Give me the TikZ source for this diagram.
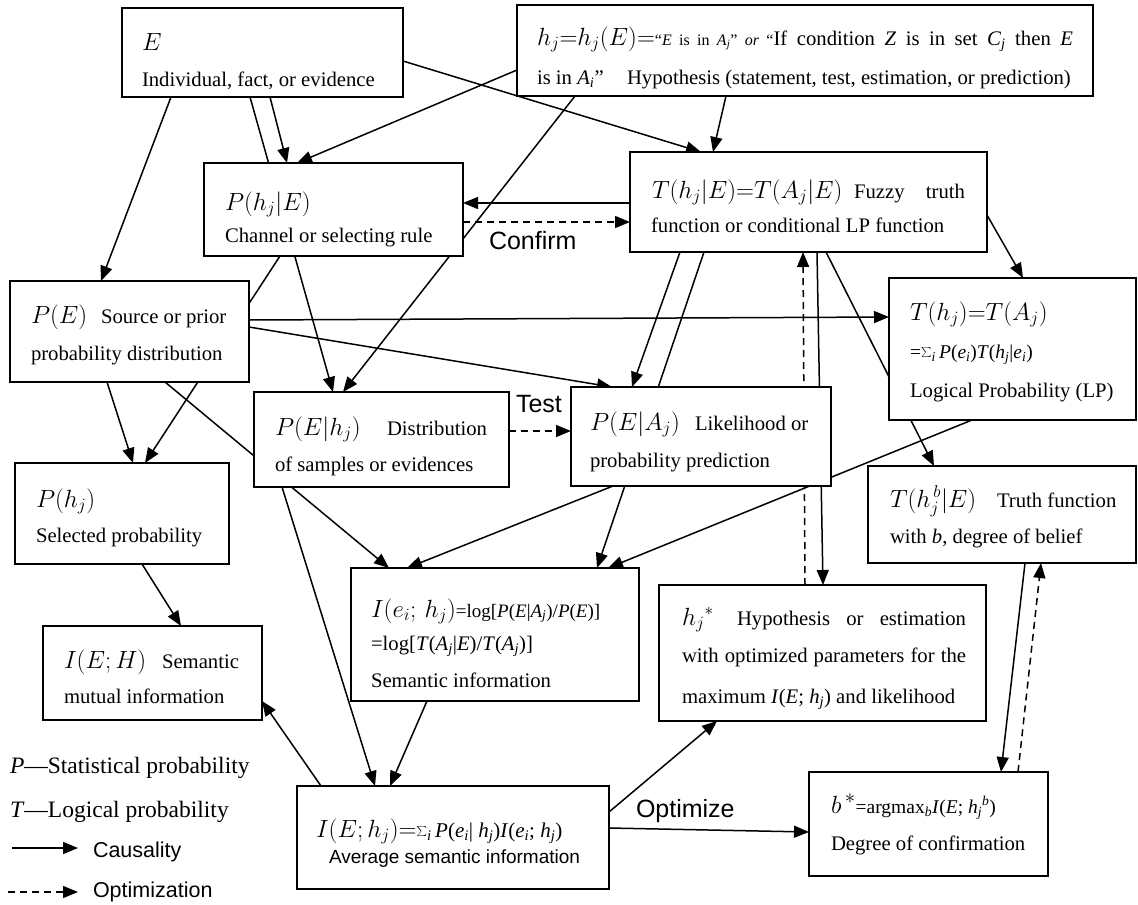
\documentclass[tikz,border=0pt]{standalone}
\usepackage{fontspec}
\setmainfont{Liberation Serif}
\newfontfamily\lblfont{Liberation Sans}
\usetikzlibrary{arrows.meta,calc}
\pgfdeclarelayer{bg}
\pgfsetlayers{bg,main}
\newcommand\BM[1]{{\fontsize{27}{29}\selectfont$#1$}}
\newcommand\sbs[1]{\textsubscript{\textit{#1}}}
\newcommand\spp[1]{\textsuperscript{\textit{#1}}}
\newcommand\smalltxt{\fontsize{16}{18}\selectfont}
\newcommand\midtxt{\fontsize{19.5}{21}\selectfont}
\begin{document}
\begin{tikzpicture}[x=1pt,y=-1pt,
  box/.style={draw, line width=1.9pt, fill=white, inner sep=0pt, outer sep=0pt, anchor=north west},
  txt/.style={anchor=base west, inner sep=0pt, outer sep=0pt, font=\fontsize{20.7}{22}\selectfont},
  lbl/.style={anchor=base west, inner sep=0pt, outer sep=0pt, font=\lblfont\fontsize{25}{27}\selectfont},
  conn/.style={line width=1.5pt, -{Triangle[length=15pt,width=12pt]}},
  opt/.style={conn, dash pattern=on 7pt off 5pt}]
\useasboundingbox (0,0) rectangle (1138,905);

% ---------- boxes ----------
\node[box, minimum width=281pt, minimum height=89pt]  (E)     at (122,8) {};
\node[box, minimum width=576pt, minimum height=91pt]  (H)     at (517,5) {};
\node[box, minimum width=259pt, minimum height=93pt]  (PhE)   at (204,163) {};
\node[box, minimum width=357pt, minimum height=100pt] (ThE)   at (630,152) {};
\node[box, minimum width=239pt, minimum height=101pt] (PE)    at (10,281) {};
\node[box, minimum width=247pt, minimum height=142pt] (ThA)   at (889,278) {};
\node[box, minimum width=255pt, minimum height=95pt]  (PEh)   at (254,392) {};
\node[box, minimum width=260pt, minimum height=99pt]  (PEA)   at (571,387) {};
\node[box, minimum width=214pt, minimum height=101pt] (Phj)   at (15,463) {};
\node[box, minimum width=268pt, minimum height=97pt]  (Tb)    at (868,466) {};
\node[box, minimum width=288pt, minimum height=133pt] (Ieh)   at (351,568) {};
\node[box, minimum width=327pt, minimum height=136pt] (hstar) at (659,585) {};
\node[box, minimum width=219pt, minimum height=94pt]  (IEH)   at (43,626) {};
\node[box, minimum width=312pt, minimum height=103pt] (IEhj)  at (297,786) {};
\node[box, minimum width=239pt, minimum height=104pt] (bstar) at (809,772) {};

% ---------- texts ----------
\node[txt] (tE1) at (142,50) {\BM{E}};
\node[txt] (tE2) at (142,86) {Individual, fact, or evidence};

\node[txt] (tH1) at (537,45) {\makebox[536pt][s]{\BM{h_j{=}h_j(E){=}}{\smalltxt“\textit{E} is in \textit{A}\sbs{j}” \textit{or} “}If condition \textit{Z} is in set \textit{C}\sbs{j} then \textit{E}}};
\node[txt] (tH2) at (537,84) {is in \textit{A}\sbs{i}”};
\node[txt] (tH3) at (627,84) {Hypothesis (statement, test, estimation, or prediction)};

\node[txt] (tPhE1) at (225,210) {\BM{P(h_j|E)}};
\node[txt] (tPhE2) at (225,242) {Channel or selecting rule};

\node[txt] (tThE1) at (652,198) {\BM{T(h_j|E){=}T(A_j|E)}};
\node[txt] (tThE2) at (854,198) {\makebox[111pt][s]{Fuzzy truth}};
\node[txt] (tThE3) at (651,232) {function or conditional LP function};

\node[txt] (tPE1) at (31,323) {\BM{P(E)}};
\node[txt] (tPE2) at (101,323) {Source or prior};
\node[txt] (tPE3) at (31,360) {probability distribution};

\node[txt] (tThA1) at (910,320) {\BM{T(h_j){=}T(A_j)}};
\node[txt] (tThA2) at (910,358) {\midtxt=$\sum$\sbs{i}\,\textit{P}(\textit{e}\sbs{i})\textit{T}(\textit{h}\sbs{j}|\textit{e}\sbs{i})};
\node[txt] (tThA3) at (910,397) {Logical Probability (LP)};

\node[txt] (tPEh1) at (275,435) {\BM{P(E|h_j)}};
\node[txt] (tPEh2) at (387,435) {Distribution};
\node[txt] (tPEh3) at (275,471) {of samples or evidences};

\node[txt] (tPEA1) at (590,430) {\BM{P(E|A_j)}};
\node[txt] (tPEA2) at (695,430) {Likelihood or};
\node[txt] (tPEA3) at (590,467) {probability prediction};

\node[txt] (tPhj1) at (36,507) {\BM{P(h_j)}};
\node[txt] (tPhj2) at (36,542) {Selected probability};

\node[txt] (tTb1) at (890,507) {\BM{T(h_j^{\,b}|E)}};
\node[txt] (tTb2) at (997,507) {Truth function};
\node[txt] (tTb3) at (890,543) {with \textit{b}, degree of belief};

\node[txt] (tIeh1) at (371,617) {\BM{I(e_i;\,h_j)}{\fontsize{19}{21}\selectfont=log[\textit{P}(\textit{E}|\textit{A}\sbs{j})/\textit{P}(\textit{E})]}};
\node[txt] (tIeh2) at (371,650) {=log[\textit{T}(\textit{A}\sbs{j}|\textit{E})/\textit{T}(\textit{A}\sbs{j})]};
\node[txt] (tIeh3) at (371,687) {Semantic information};

\node[txt] (ths1) at (682,625) {\BM{h_j{}^{*}}};
\node[txt] (ths2) at (737,625) {\makebox[229pt][s]{Hypothesis or estimation}};
\node[txt] (ths3) at (682,662) {\makebox[284pt][s]{with optimized parameters for the}};
\node[txt] (ths4) at (682,703) {maximum \textit{I}(\textit{E}; \textit{h}\sbs{j}) and likelihood};

\node[txt] (tIEH1) at (64,668) {\BM{I(E;H)}};
\node[txt] (tIEH2) at (162,668) {Semantic};
\node[txt] (tIEH3) at (64,703) {mutual information};

\node[txt] (tIEhj1) at (316,837) {{\fontsize{25}{27}\selectfont$I(E;h_j){=}$}{\fontsize{21}{23}\selectfont$\sum$\sbs{i}\,\textit{P}(\textit{e}\sbs{i}| \textit{h}\sbs{j})\textit{I}(\textit{e}\sbs{i}; \textit{h}\sbs{j})}};
\node[lbl, font=\lblfont\fontsize{19}{21}\selectfont] (tIEhj2) at (329,863) {Average semantic information};

\node[txt] (tb1) at (831,813) {{\fontsize{29}{31}\selectfont$b^{\,*}$}{\midtxt=argmax\sbs{b}\textit{I}(\textit{E}; \textit{h}\sbs{j}\spp{b})}};
\node[txt] (tb2) at (831,850) {Degree of confirmation};

% ---------- edge labels ----------
\node[lbl] (lConfirm) at (489,249) {Confirm};
\node[lbl] (lTest) at (516,412) {Test};
\node[lbl] (lOpt) at (636,817) {Optimize};

% ---------- legend ----------
\node[txt, font=\fontsize{23.5}{25}\selectfont] (lg1) at (10,773) {\textit{P}—Statistical probability};
\node[txt, font=\fontsize{23.5}{25}\selectfont] (lg2) at (10,817) {\textit{T}—Logical probability};
\coordinate (c1a) at (12,848);
\coordinate (c1b) at (78,848);
\coordinate (c2a) at (8,892);
\coordinate (c2b) at (78,892);
\node[lbl, font=\lblfont\fontsize{21.5}{23}\selectfont] (lg3) at (93,857) {Causality};
\node[lbl, font=\lblfont\fontsize{21.5}{23}\selectfont] (lg4) at (93,897) {Optimization};
\draw[conn] (c1a) -- (c1b);
\draw[opt] (c2a) -- (c2b);

% ---------- connectors ----------
\begin{pgfonlayer}{bg}
\draw[conn] ([xshift=49pt]E.south west) -- ([xshift=91pt]PE.north west);
\draw[conn] ([xshift=128pt]E.south west) -- ([xshift=79pt]PEh.north west);
\draw[conn] ([xshift=148pt]E.south west) -- ([xshift=83pt]PhE.north west);
\draw[conn] ([yshift=-53pt]E.north east) -- ([xshift=71pt]ThE.north west);
\draw[conn] ([yshift=-65pt]H.north west) -- ([xshift=93pt]PhE.north west);
\draw[conn] ([xshift=58pt]H.south west) -- ([xshift=89pt]PEh.north west);
\draw[conn] ([xshift=209pt]H.south west) -- ([xshift=83pt]ThE.north west);
\draw[conn] ([yshift=-51pt]ThE.north west) -- ([yshift=-40pt]PhE.north east);
\draw[opt] ([yshift=-59pt]PhE.north east) -- ([yshift=-70pt]ThE.north west);
\draw[conn] ([xshift=76pt]PhE.south west) -- ([xshift=130pt]Phj.north west);
\draw[conn] ([xshift=97pt]PE.south west) -- ([xshift=118pt]Phj.north west);
\draw[conn] ([yshift=-39pt]PE.north east) -- ([yshift=-39pt]ThA.north west);
\draw[conn] ([yshift=-46pt]PE.north east) -- ([xshift=41pt]PEA.north west);
\draw[conn] ([xshift=155pt]PE.south west) -- ([xshift=38pt]Ieh.north west);
\draw[opt] ([yshift=-39pt]PEh.north east) -- ([yshift=-44pt]PEA.north west);
\draw[conn] ([xshift=28pt]PEh.south west) -- ([xshift=78pt]IEhj.north west);
\draw[conn] ([xshift=42pt]PEA.south west) -- ([xshift=56pt]Ieh.north west);
\draw[conn] ([xshift=50pt]ThE.south west) -- ([xshift=61pt]PEA.north west);
\draw[conn] ([xshift=74pt]ThE.south west) -- ([xshift=246pt]Ieh.north west);
\draw[conn] ([xshift=187pt]ThE.south west) -- ([xshift=164pt]hstar.north west);
\draw[opt] ([xshift=146pt]hstar.north west) -- ([xshift=173pt]ThE.south west);
\draw[conn] ([yshift=-63pt]ThE.north east) -- ([xshift=134pt]ThA.north west);
\draw[conn] ([xshift=196pt]ThE.south west) -- ([xshift=66pt]Tb.north west);
\draw[conn] ([xshift=83pt]ThA.south west) -- ([xshift=257pt]Ieh.north west);
\draw[conn] ([xshift=127pt]Phj.south west) -- ([xshift=138pt]IEH.north west);
\draw[conn] ([xshift=24pt]IEhj.north west) -- ([yshift=-75pt]IEH.north east);
\draw[conn] ([xshift=76pt]Ieh.south west) -- ([xshift=93pt]IEhj.north west);
\draw[conn] ([yshift=-26pt]IEhj.north east) -- ([xshift=58pt]hstar.south west);
\draw[conn] ([yshift=-42pt]IEhj.north east) -- ([yshift=-60pt]bstar.north west);
\draw[conn] ([xshift=157pt]Tb.south west) -- ([xshift=192pt]bstar.north west);
\draw[opt] ([xshift=209pt]bstar.north west) -- ([xshift=173pt]Tb.south west);
\end{pgfonlayer}
\end{tikzpicture}
\end{document}
